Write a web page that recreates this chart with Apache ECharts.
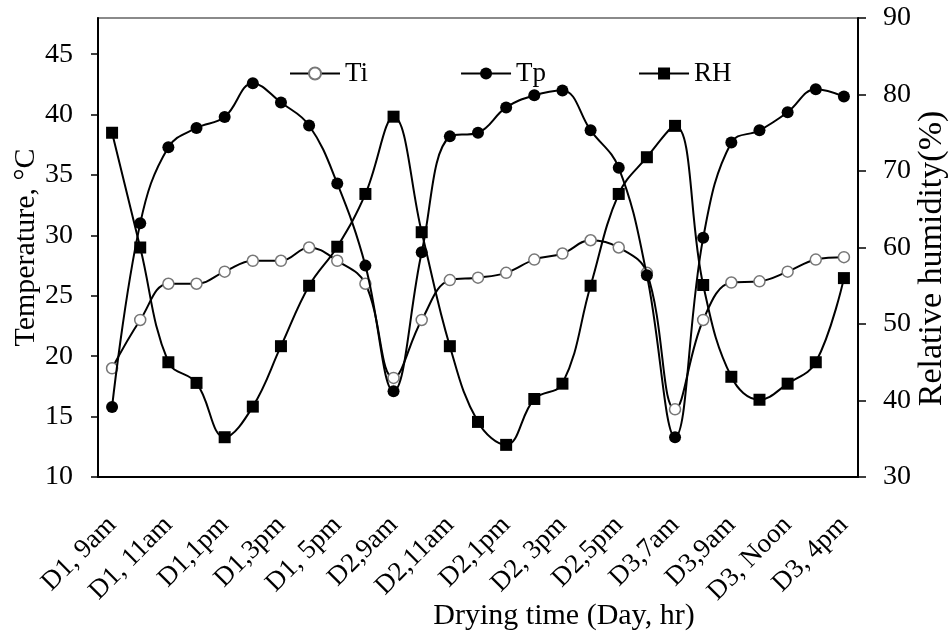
<!DOCTYPE html>
<html>
<head>
<meta charset="utf-8">
<script src="https://cdn.jsdelivr.net/npm/echarts@6/dist/echarts.min.js"></script>
<style>html,body{margin:0;padding:0;background:#fff}#c{width:949px;height:641px}</style>
</head>
<body>
<div id="c"></div>
<script>
var categories = ["D1, 9am","D1,10am","D1, 11am","D1,12pm","D1,1pm","D1,2pm","D1,3pm","D1,4pm","D1, 5pm","D1,6pm",
  "D2,9am","D2,10am","D2,11am","D2,12pm","D2,1pm","D2,2pm","D2, 3pm","D2,4pm","D2,5pm","D2,6pm",
  "D3,7am","D3,8am","D3,9am","D3,10am","D3, Noon","D3,2pm","D3, 4pm"];
var Ti = [19.0,23.0,26.0,26.0,27.0,27.9,27.9,29.0,27.9,26.0,18.2,23.0,26.3,26.5,26.9,28.0,28.5,29.6,29.0,26.9,15.6,23.0,26.1,26.2,27.0,28.0,28.2];
var Tp = [15.8,31.0,37.3,38.9,39.8,42.6,41.0,39.1,34.3,27.5,17.1,28.6,38.2,38.5,40.6,41.6,42.0,38.7,35.6,26.7,13.3,29.8,37.7,38.7,40.2,42.1,41.5];
var RH = [75.0,60.0,45.0,42.3,35.2,39.2,47.1,55.0,60.1,67.0,77.1,62.0,47.1,37.2,34.2,40.2,42.2,55.0,67.0,71.8,75.9,55.1,43.1,40.1,42.2,45.0,56.0];
var leftTicks = {min: 10, max: 48, interval: 5};
var rightTicks = {min: 30, max: 90, interval: 10};

var font = "Liberation Serif";
var chart = echarts.init(document.getElementById('c'), null, {renderer: 'canvas'});
chart.setOption({
  animation: false,
  backgroundColor: '#fff',
  textStyle: {fontFamily: font, color: '#000'},
  grid: {left: 98, right: 91, top: 18, bottom: 164, outerBoundsMode: 'none', containLabel: false,
    show: true, borderColor: '#8a8a8a', borderWidth: 2, backgroundColor: 'transparent'},
  legend: {
    left: 284, top: 55, itemWidth: 50, itemHeight: 15, itemGap: 92,
    textStyle: {fontFamily: font, fontSize: 27, color: '#000'},
    data: ['Ti', 'Tp', 'RH']
  },
  xAxis: {
    type: 'category', data: categories, boundaryGap: true,
    name: 'Drying time (Day, hr)', nameLocation: 'middle', nameGap: 124, nameMoveOverlap: false,
    nameTextStyle: {fontFamily: font, fontSize: 30, color: '#000', padding: [0, 0, 0, 172]},
    axisLine: {lineStyle: {color: '#000', width: 2}},
    axisTick: {interval: 1, length: 6, lineStyle: {color: '#000', width: 1.5}},
    axisLabel: {interval: 1, rotate: 45, margin: 44, fontFamily: font, fontSize: 27, color: '#000'},
    splitLine: {show: false}
  },
  yAxis: [{
    type: 'value', min: leftTicks.min, max: leftTicks.max, interval: leftTicks.interval,
    name: 'Temperature, °C', nameLocation: 'middle', nameGap: 57, nameRotate: 90, nameMoveOverlap: false,
    nameTextStyle: {fontFamily: font, fontSize: 30, color: '#000'},
    axisLine: {show: true, lineStyle: {color: '#000', width: 2}},
    axisTick: {show: true, length: 7, lineStyle: {color: '#000', width: 1.5}},
    axisLabel: {margin: 25, fontFamily: font, fontSize: 28, color: '#000', showMaxLabel: false},
    splitLine: {show: false}
  }, {
    type: 'value', position: 'right', min: rightTicks.min, max: rightTicks.max, interval: rightTicks.interval,
    name: 'Relative humidity(%)', nameLocation: 'middle', nameGap: 57, nameRotate: 90, nameMoveOverlap: false,
    nameTextStyle: {fontFamily: font, fontSize: 34, color: '#000', padding: [0, 22, 0, 0]},
    axisLine: {show: true, lineStyle: {color: '#000', width: 2}},
    axisTick: {show: true, length: 8, lineStyle: {color: '#000', width: 1.5}},
    axisLabel: {margin: 25, fontFamily: font, fontSize: 28, color: '#000'},
    splitLine: {show: false}
  }],
  series: [{
    name: 'Ti', type: 'line', data: Ti, smooth: 0.4, symbol: 'circle', symbolSize: 11,
    itemStyle: {color: '#fff', borderColor: '#777', borderWidth: 1.5},
    lineStyle: {color: '#000', width: 2}, z: 3
  }, {
    name: 'Tp', type: 'line', data: Tp, smooth: 0.4, symbol: 'circle', symbolSize: 12,
    itemStyle: {color: '#000'}, lineStyle: {color: '#000', width: 2}, z: 4
  }, {
    name: 'RH', type: 'line', yAxisIndex: 1, data: RH, smooth: 0.4, symbol: 'rect', symbolSize: 12,
    itemStyle: {color: '#000'}, lineStyle: {color: '#000', width: 2}, z: 5
  }]
});
</script>
</body>
</html>
